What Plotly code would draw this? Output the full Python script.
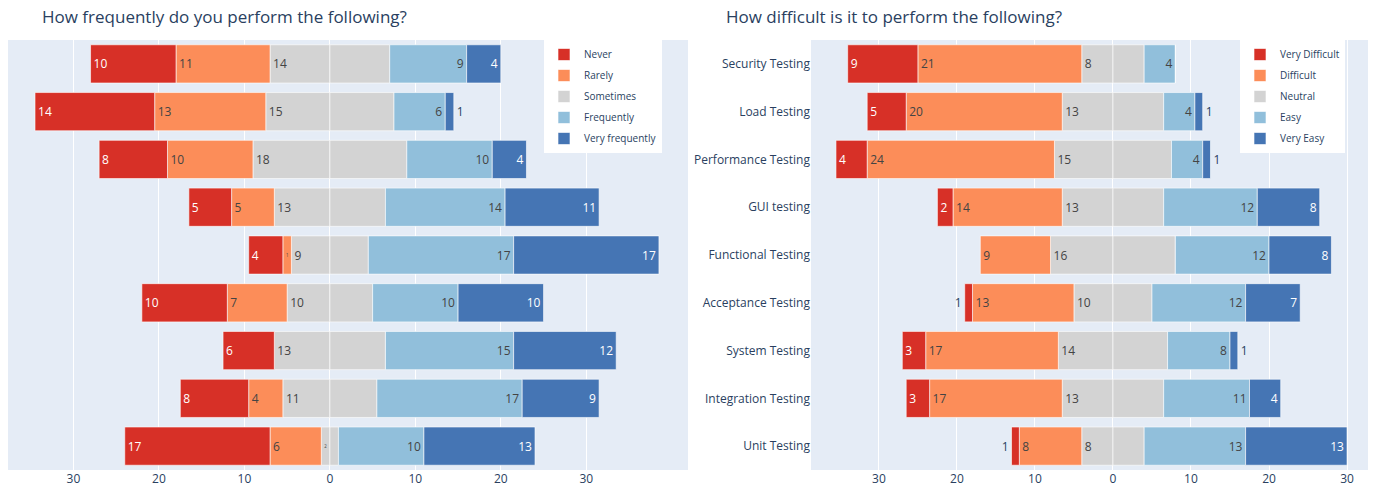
import plotly.graph_objects as go

# Rows, top to bottom
categories = ["Security Testing", "Load Testing", "Performance Testing", "GUI testing",
              "Functional Testing", "Acceptance Testing", "System Testing",
              "Integration Testing", "Unit Testing"]

# Left chart: How frequently do you perform the following?
freq_labels = ["Never", "Rarely", "Sometimes", "Frequently", "Very frequently"]
freq_never = [10, 14, 8, 5, 4, 10, 6, 8, 17]
freq_rarely = [11, 13, 10, 5, 1, 7, 0, 4, 6]
freq_sometimes = [14, 15, 18, 13, 9, 10, 13, 11, 2]
freq_frequently = [9, 6, 10, 14, 17, 10, 15, 17, 10]
freq_very = [4, 1, 4, 11, 17, 10, 12, 9, 13]

# Right chart: How difficult is it to perform the following?
diff_labels = ["Very Difficult", "Difficult", "Neutral", "Easy", "Very Easy"]
diff_very_difficult = [9, 5, 4, 2, 0, 1, 3, 3, 1]
diff_difficult = [21, 20, 24, 14, 9, 13, 17, 17, 8]
diff_neutral = [8, 13, 15, 13, 16, 10, 14, 13, 8]
diff_easy = [4, 4, 4, 12, 12, 12, 8, 11, 13]
diff_very_easy = [0, 1, 1, 8, 8, 7, 1, 4, 13]

tick_vals = [-30, -20, -10, 0, 10, 20, 30]
tick_text = ["30", "20", "10", "0", "10", "20", "30"]

colors = ["#d73027", "#fc8d59", "#d3d3d3", "#91bfdb", "#4575b4"]

fig = go.Figure()


def txt(vals):
    return [str(v) if v > 0 else "" for v in vals]


def add_group(labels, series, xa, ya, legend):
    s1, s2, s3, s4, s5 = series
    common = dict(orientation="h", y=categories, xaxis=xa, yaxis=ya, legend=legend,
                  textposition="auto", textangle=0, marker_line_width=1,
                  marker_line_color="rgba(255,255,255,0.6)", hoverinfo="skip")
    # neutral: half negative (labelled), half positive
    fig.add_trace(go.Bar(x=[-v / 2 for v in s3], text=txt(s3), name=labels[2],
                         marker_color=colors[2], legendgroup=legend + labels[2],
                         legendrank=3, **common))
    fig.add_trace(go.Bar(x=[v / 2 for v in s3], text=None, name=labels[2],
                         marker_color=colors[2], legendgroup=legend + labels[2],
                         showlegend=False, legendrank=3, **common))
    fig.add_trace(go.Bar(x=[-v for v in s2], text=txt(s2), name=labels[1],
                         marker_color=colors[1], legendgroup=legend + labels[1],
                         legendrank=2, **common))
    fig.add_trace(go.Bar(x=[-v for v in s1], text=txt(s1), name=labels[0],
                         marker_color=colors[0], legendgroup=legend + labels[0],
                         legendrank=1, **common))
    fig.add_trace(go.Bar(x=s4, text=txt(s4), name=labels[3],
                         marker_color=colors[3], legendgroup=legend + labels[3],
                         legendrank=4, **common))
    fig.add_trace(go.Bar(x=s5, text=txt(s5), name=labels[4],
                         marker_color=colors[4], legendgroup=legend + labels[4],
                         legendrank=5, **common))


add_group(freq_labels, [freq_never, freq_rarely, freq_sometimes, freq_frequently, freq_very],
          "x", "y", "legend")
add_group(diff_labels, [diff_very_difficult, diff_difficult, diff_neutral, diff_easy, diff_very_easy],
          "x2", "y2", "legend2")

W, H = 1368, 483
axis_common = dict(tickvals=tick_vals, ticktext=tick_text, gridcolor="white",
                   zerolinecolor="white", zerolinewidth=1, tickfont=dict(size=12))

legend_common = dict(bgcolor="white", font=dict(size=10), yanchor="top", y=1,
                     xanchor="left", traceorder="grouped", tracegroupgap=2)

fig.update_layout(
    width=W, height=H,
    template="plotly",
    barmode="relative",
    bargap=0.2,
    margin=dict(l=0, r=0, t=32, b=21),
    xaxis=dict(domain=[0, 680 / W], anchor="y", range=[-37.66, 41.9], **axis_common),
    yaxis=dict(anchor="x", showticklabels=False, autorange="reversed"),
    xaxis2=dict(domain=[803 / W, 1364 / W], anchor="y2", range=[-38.7, 33.2], **axis_common),
    yaxis2=dict(anchor="x2", autorange="reversed", tickfont=dict(size=12)),
    legend=dict(x=536 / W, **legend_common),
    legend2=dict(x=1232 / W, **legend_common),
    annotations=[
        dict(text="How frequently do you perform the following?", x=32 / W, y=1.054,
             xref="paper", yref="paper", xanchor="left", yanchor="middle",
             showarrow=False, font=dict(size=17, color="#2a3f5f")),
        dict(text="How difficult is it to perform the following?", x=716 / W, y=1.054,
             xref="paper", yref="paper", xanchor="left", yanchor="middle",
             showarrow=False, font=dict(size=17, color="#2a3f5f")),
    ],
)

fig.write_html("out.html")
